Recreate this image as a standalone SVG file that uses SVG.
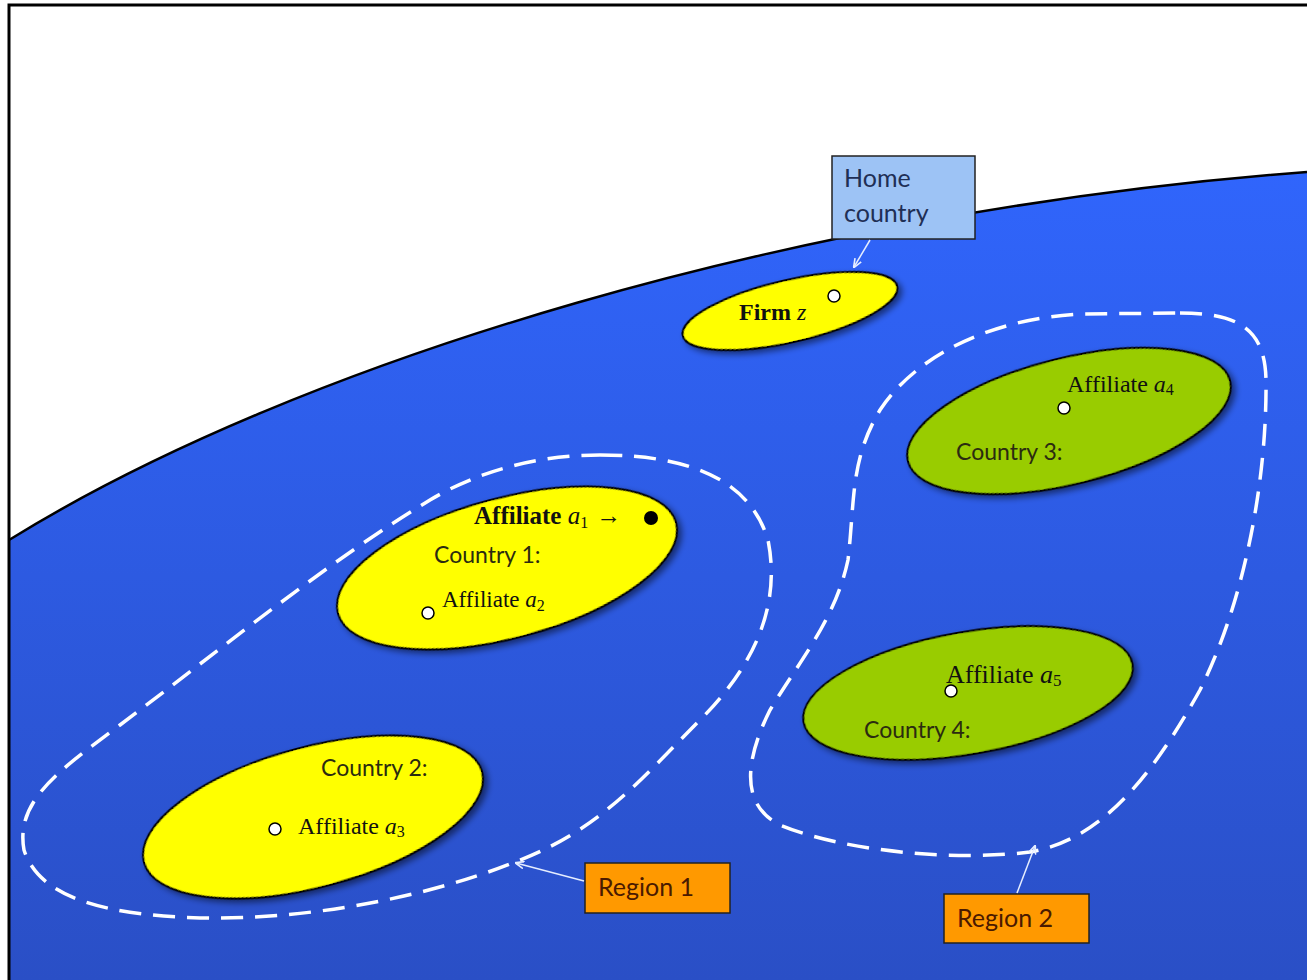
<svg xmlns="http://www.w3.org/2000/svg" width="1307" height="980" viewBox="0 0 1307 980">
<defs>
<linearGradient id="sea" x1="0" y1="172" x2="0" y2="980" gradientUnits="userSpaceOnUse">
<stop offset="0" stop-color="#3065FC"/>
<stop offset="1" stop-color="#2A4FC6"/>
</linearGradient>
<filter id="sh" x="-20%" y="-30%" width="140%" height="160%">
<feGaussianBlur in="SourceAlpha" stdDeviation="3"/>
<feOffset dx="3" dy="4" result="b"/>
<feComponentTransfer><feFuncA type="linear" slope="0.5"/></feComponentTransfer>
<feMerge><feMergeNode/><feMergeNode in="SourceGraphic"/></feMerge>
</filter>
<marker id="ah" viewBox="0 0 10 10" refX="9" refY="5" markerWidth="9" markerHeight="9" orient="auto-start-reverse" markerUnits="userSpaceOnUse">
<path d="M0,1 L10,5 L0,9" fill="none" stroke="#E6EEFF" stroke-width="1.8"/>
</marker>
<style>
.yel{fill:#FFFF00;stroke:#000;stroke-width:2}
.grn{fill:#99CC00;stroke:#000;stroke-width:2}
.dot{fill:#fff;stroke:#000;stroke-width:1.5}
.ser{font-family:"Liberation Serif",serif;font-size:23px;fill:#111}
.san{font-family:Lato,"Liberation Sans",sans-serif;font-size:23px;fill:#2b2b10}
.reg{fill:none;stroke:#fff;stroke-width:3.5;stroke-dasharray:22,12}
.lbl{font-family:Lato,"Liberation Sans",sans-serif;font-size:25px}
.conn{stroke:#E6EEFF;stroke-width:1.5;fill:none;marker-end:url(#ah)}
</style>
</defs>
<rect x="0" y="0" width="1307" height="980" fill="#fff"/>
<path d="M9,540 C300,360 800,210 1307,172 L1307,980 L9,980 Z" fill="url(#sea)"/>
<path d="M9,540 C300,360 800,210 1307,172" fill="none" stroke="#000" stroke-width="2.5"/>
<path d="M9,980 L9,5 L1307,5" fill="none" stroke="#000" stroke-width="3"/>

<g id="region1">
<path class="reg" d="M600,455 C690,455 750,480 768,540 C780,600 760,660 700,720 C640,780 600,830 515,862 C420,900 300,920 200,918 C110,915 40,900 24,850 C15,800 60,770 120,725 C220,650 330,560 430,500 C480,470 540,455 600,455 Z"/>
</g>
<g id="region2">
<path class="reg" d="M1180,313 C1240,313 1265,330 1266,380 C1267,480 1245,600 1200,690 C1150,780 1100,840 1030,852 C950,862 840,850 780,825 C740,805 745,760 770,710 C800,660 835,620 848,560 C855,500 850,460 880,410 C920,350 1000,318 1080,314 Z"/>
</g>

<g id="firm">
<ellipse class="yel" filter="url(#sh)" cx="790" cy="311" rx="110" ry="31" transform="rotate(-13 790 311)"/>
<text x="739" y="320" class="ser" style="font-weight:bold;font-size:24px">Firm <tspan font-style="italic" font-weight="normal">z</tspan></text>
<circle class="dot" cx="834" cy="296" r="6"/>
</g>

<g id="country1">
<ellipse class="yel" filter="url(#sh)" cx="507" cy="568" rx="175" ry="70" transform="rotate(-15 507 568)"/>
<text x="474" y="524" class="ser" style="font-weight:bold;font-size:25px">Affiliate <tspan font-style="italic" font-weight="normal">a</tspan><tspan font-weight="normal" font-size="16" dy="4">1</tspan><tspan font-weight="normal" dy="-4" dx="8">→</tspan></text>
<circle cx="651" cy="518" r="7" fill="#000"/>
<text x="434" y="563" class="san">Country 1:</text>
<circle class="dot" cx="428" cy="613" r="6"/>
<text x="442" y="607" class="ser">Affiliate <tspan font-style="italic">a</tspan><tspan font-size="16" dy="4">2</tspan></text>
</g>

<g id="country2">
<ellipse class="yel" filter="url(#sh)" cx="313" cy="817" rx="175" ry="70" transform="rotate(-15 313 817)"/>
<text x="321" y="776" class="san">Country 2:</text>
<circle class="dot" cx="275" cy="829" r="6"/>
<text x="298" y="834" class="ser" style="font-size:24px">Affiliate <tspan font-style="italic">a</tspan><tspan font-size="16" dy="3">3</tspan></text>
</g>

<g id="country3">
<ellipse class="grn" filter="url(#sh)" cx="1069" cy="421" rx="166" ry="63" transform="rotate(-14 1069 421)"/>
<text x="1067" y="392" class="ser" style="font-size:24px">Affiliate <tspan font-style="italic">a</tspan><tspan font-size="16" dy="3">4</tspan></text>
<circle class="dot" cx="1064" cy="408" r="6"/>
<text x="956" y="460" class="san">Country 3:</text>
</g>

<g id="country4">
<ellipse class="grn" filter="url(#sh)" cx="968" cy="693" rx="167" ry="61" transform="rotate(-10 968 693)"/>
<text x="946" y="683" class="ser" style="font-size:26px">Affiliate <tspan font-style="italic">a</tspan><tspan font-size="17" dy="3">5</tspan></text>
<circle class="dot" cx="951" cy="691" r="6"/>
<text x="864" y="738" class="san">Country 4:</text>
</g>

<g id="home">
<rect x="832" y="156" width="143" height="83" fill="#9DC3F5" stroke="#222" stroke-width="1.5"/>
<text x="844" y="187" class="lbl" fill="#1F2F55">Home</text>
<text x="844" y="222" class="lbl" fill="#1F2F55">country</text>
</g>
<g id="label1">
<rect x="585" y="863" width="145" height="50" fill="#FF9900" stroke="#222" stroke-width="1.5"/>
<text x="598" y="896" class="lbl" fill="#4A1A00">Region 1</text>
</g>
<g id="label2">
<rect x="944" y="894" width="145" height="49" fill="#FF9900" stroke="#222" stroke-width="1.5"/>
<text x="957" y="927" class="lbl" fill="#4A1A00">Region 2</text>
</g>

<g id="connectors">
<line class="conn" x1="870" y1="240" x2="854" y2="267"/>
<line class="conn" x1="584" y1="881" x2="516" y2="863"/>
<line class="conn" x1="1017" y1="893" x2="1035" y2="846"/>
</g>
</svg>
